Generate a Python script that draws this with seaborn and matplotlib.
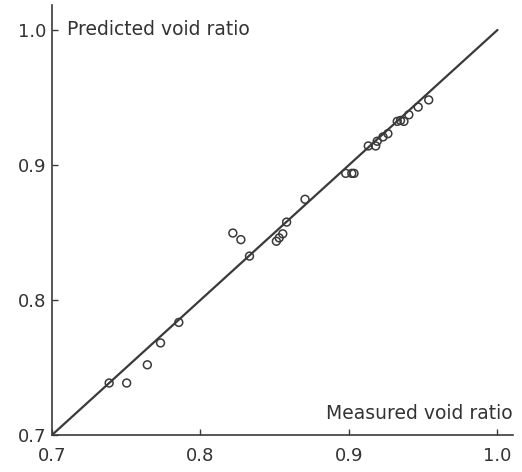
import numpy as np
import pandas as pd
import seaborn as sns
import matplotlib
matplotlib.use('Agg')
import matplotlib.pyplot as plt

# valores (indice de vazios medido x previsto)
medido = [0.7385, 0.7503, 0.7642, 0.7731, 0.7854, 0.8218, 0.8272, 0.8330,
          0.8511, 0.8554, 0.8530, 0.8580, 0.8704, 0.8978, 0.9019, 0.9034,
          0.9130, 0.9180, 0.9190, 0.9229, 0.9262, 0.9325, 0.9347, 0.9370,
          0.9403, 0.9466, 0.9537]
previsto = [0.7385, 0.7385, 0.7520, 0.7682, 0.7834, 0.8496, 0.8447, 0.8325,
            0.8435, 0.8490, 0.8460, 0.8577, 0.8746, 0.8938, 0.8938, 0.8938,
            0.9141, 0.9141, 0.9176, 0.9208, 0.9232, 0.9323, 0.9330, 0.9323,
            0.9372, 0.9429, 0.9482]

linha_igualdade = [0.7, 1.0]
ticks = [0.7, 0.8, 0.9, 1.0]
rotulos = ['0.7', '0.8', '0.9', '1.0']

cor = '#3a3a3a'

sns.set_style('white')
plt.rcParams['font.family'] = ['DejaVu Sans']

df = pd.DataFrame({'medido': medido, 'previsto': previsto})
df_linha = pd.DataFrame({'x': linha_igualdade, 'y': linha_igualdade})

fig = plt.figure(figsize=(5.22, 4.72), dpi=100)
ax = fig.add_axes([0.0996, 0.0784, 0.883, 0.911])

sns.lineplot(data=df_linha, x='x', y='y', ax=ax, color=cor, linewidth=1.6)
sns.scatterplot(data=df, x='medido', y='previsto', ax=ax, marker='o', s=32,
                facecolors='none', edgecolor=cor, linewidth=1.1, zorder=3)

ax.set_xlim(0.7, 1.0104)
ax.set_ylim(0.7, 1.0185)
ax.set_xticks(ticks)
ax.set_xticklabels(rotulos)
ax.set_yticks(ticks)
ax.set_yticklabels(rotulos)
ax.set_xlabel('')
ax.set_ylabel('')

for lado in ['top', 'right']:
    ax.spines[lado].set_visible(False)
for lado in ['left', 'bottom']:
    ax.spines[lado].set_color(cor)
    ax.spines[lado].set_linewidth(1.2)

ax.tick_params(axis='x', bottom=True, direction='in', length=4, width=1, color=cor,
               labelsize=13, labelcolor='#333333', pad=9)
ax.tick_params(axis='y', left=True, direction='in', length=4, width=1, color=cor,
               labelsize=13, labelcolor='#333333', pad=4)

ax.text(0.033, 0.944, 'Predicted void ratio', transform=ax.transAxes,
        ha='left', va='center', fontsize=13.5, color='#333333')
ax.text(1.0, 0.049, 'Measured void ratio', transform=ax.transAxes,
        ha='right', va='center', fontsize=13.5, color='#333333')

plt.savefig('out.png', dpi=100)
